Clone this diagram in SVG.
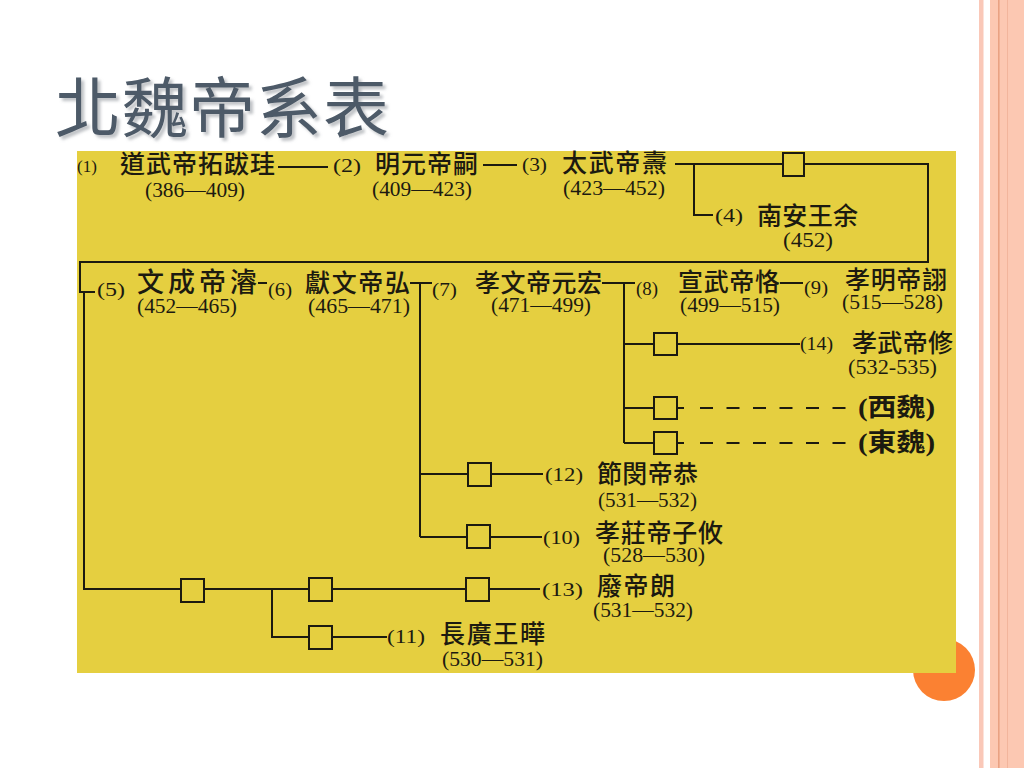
<svg xmlns="http://www.w3.org/2000/svg" width="1024" height="768" viewBox="0 0 1024 768">
<style>
.nm{font-family:"Noto Sans CJK TC","Noto Sans CJK SC",sans-serif;font-size:25px;font-weight:500;fill:#1c1a10}
.bd{font-family:"Liberation Serif","Noto Sans CJK TC","Noto Sans CJK SC",serif;font-size:25px;font-weight:700;fill:#1c1a10}
.no{font-family:"Liberation Serif",serif;font-size:19px;fill:#1c1a10}
.yr{font-family:"Liberation Serif",serif;font-size:20px;fill:#1c1a10}
.ln{stroke:#1c1a10;stroke-width:2;fill:none}
.dl{stroke:#1c1a10;stroke-width:2;fill:none;stroke-dasharray:13 13.5}
.bx{fill:none;stroke:#1c1a10;stroke-width:2}
.title{font-family:"Noto Sans CJK TC","Noto Sans CJK SC",sans-serif;font-size:66px;font-weight:400;fill:#4d5a68}
</style>
<defs>
<filter id="sh" x="-10%" y="-10%" width="130%" height="140%">
<feDropShadow dx="3" dy="3" stdDeviation="1.5" flood-color="#8a9096" flood-opacity="0.55"/>
</filter>
</defs>
<rect x="0" y="0" width="1024" height="768" fill="#ffffff"/>
<g id="decor">
<rect x="979" y="0" width="4.5" height="768" fill="#fac8b8"/>
<rect x="990" y="0" width="34" height="768" fill="#fcc8b2"/>
<rect x="998" y="0" width="1.6" height="768" fill="#e9a283"/>
<rect x="1007" y="0" width="1" height="768" fill="#f2b59c"/>
<circle cx="944" cy="670" r="31" fill="#fb8132"/>
</g>
<text class="title" x="55" y="132" filter="url(#sh)" textLength="334">北魏帝系表</text>
<rect id="panel" x="77" y="151" width="879" height="522" fill="#e5cf40"/>

<g id="connectors">
<line class="ln" x1="278" y1="167" x2="328" y2="167"/>
<line class="ln" x1="483" y1="165" x2="517" y2="165"/>
<line class="ln" x1="675" y1="164" x2="783" y2="164"/>
<line class="ln" x1="804" y1="164" x2="928" y2="164"/>
<polyline class="ln" points="694,164 694,215 713,215"/>
<polyline class="ln" points="928,163 928,262 80,262 80,292 95,292"/>
<line class="ln" x1="258" y1="283" x2="267" y2="283"/>
<line class="ln" x1="410" y1="283" x2="432" y2="283"/>
<line class="ln" x1="420" y1="283" x2="420" y2="537"/>
<line class="ln" x1="602" y1="283" x2="635" y2="283"/>
<line class="ln" x1="624" y1="283" x2="624" y2="443"/>
<line class="ln" x1="780" y1="283" x2="803" y2="283"/>
<line class="ln" x1="624" y1="344" x2="654" y2="344"/>
<line class="ln" x1="677" y1="344" x2="800" y2="344"/>
<line class="ln" x1="624" y1="408" x2="654" y2="408"/>
<line class="ln" x1="677" y1="408" x2="684" y2="408"/>
<line class="dl" x1="700" y1="408" x2="858" y2="408"/>
<line class="ln" x1="624" y1="443" x2="654" y2="443"/>
<line class="ln" x1="677" y1="443" x2="684" y2="443"/>
<line class="dl" x1="700" y1="443" x2="858" y2="443"/>
<line class="ln" x1="420" y1="474" x2="468" y2="474"/>
<line class="ln" x1="491" y1="474" x2="543" y2="474"/>
<line class="ln" x1="420" y1="537" x2="467" y2="537"/>
<line class="ln" x1="490" y1="537" x2="542" y2="537"/>
<polyline class="ln" points="84,292 84,589 181,589"/>
<line class="ln" x1="204" y1="589" x2="309" y2="589"/>
<line class="ln" x1="332" y1="589" x2="466" y2="589"/>
<line class="ln" x1="489" y1="589" x2="540" y2="589"/>
<polyline class="ln" points="272,589 272,637 309,637"/>
<line class="ln" x1="332" y1="637" x2="387" y2="637"/>
</g>

<g id="n1"><text class="no" x="77" y="172" style="font-size:17px">(1)</text><text class="nm" x="120" y="173" textLength="155">道武帝拓跋珪</text><text class="yr" x="145" y="197" textLength="100" lengthAdjust="spacingAndGlyphs">(386—409)</text></g>
<g id="n2"><text class="no" x="333" y="172" textLength="28" lengthAdjust="spacingAndGlyphs">(2)</text><text class="nm" x="375" y="173" textLength="103">明元帝嗣</text><text class="yr" x="372" y="196" textLength="100" lengthAdjust="spacingAndGlyphs">(409—423)</text></g>
<g id="n3"><text class="no" x="522" y="171" textLength="25" lengthAdjust="spacingAndGlyphs">(3)</text><text class="nm" x="562" y="172" textLength="105">太武帝燾</text><text class="yr" x="563" y="195" textLength="102" lengthAdjust="spacingAndGlyphs">(423—452)</text></g>
<g id="b0"><rect class="bx" x="783" y="153" width="21" height="23"/></g>
<g id="n4"><text class="no" x="715" y="222" textLength="28" lengthAdjust="spacingAndGlyphs">(4)</text><text class="nm" x="757" y="225" textLength="101">南安王余</text><text class="yr" x="783" y="247" textLength="50" lengthAdjust="spacingAndGlyphs">(452)</text></g>
<g id="n5"><text class="no" x="97" y="296" textLength="28" lengthAdjust="spacingAndGlyphs">(5)</text><text class="nm" x="137" y="292" textLength="120" style="font-size:27px">文成帝濬</text><text class="yr" x="137" y="313" textLength="100" lengthAdjust="spacingAndGlyphs">(452—465)</text></g>
<g id="n6"><text class="no" x="268" y="296" textLength="24" lengthAdjust="spacingAndGlyphs">(6)</text><text class="nm" x="305" y="292" textLength="105">獻文帝弘</text><text class="yr" x="308" y="313" textLength="102" lengthAdjust="spacingAndGlyphs">(465—471)</text></g>
<g id="n7"><text class="no" x="432" y="296" textLength="25" lengthAdjust="spacingAndGlyphs">(7)</text><text class="nm" x="475" y="292" textLength="127">孝文帝元宏</text><text class="yr" x="491" y="312" textLength="100" lengthAdjust="spacingAndGlyphs">(471—499)</text></g>
<g id="n8"><text class="no" x="636" y="295" textLength="22" lengthAdjust="spacingAndGlyphs">(8)</text><text class="nm" x="678" y="291" textLength="102">宣武帝恪</text><text class="yr" x="680" y="312" textLength="100" lengthAdjust="spacingAndGlyphs">(499—515)</text></g>
<g id="n9"><text class="no" x="804" y="294" textLength="24" lengthAdjust="spacingAndGlyphs">(9)</text><text class="nm" x="845" y="289" textLength="102">孝明帝詡</text><text class="yr" x="842" y="309" textLength="101" lengthAdjust="spacingAndGlyphs">(515—528)</text></g>
<g id="b1"><rect class="bx" x="654" y="333" width="23" height="22"/></g>
<g id="n14"><text class="no" x="800" y="350" textLength="33" lengthAdjust="spacingAndGlyphs">(14)</text><text class="nm" x="852" y="352" textLength="101">孝武帝修</text><text class="yr" x="848" y="374" textLength="89" lengthAdjust="spacingAndGlyphs">(532-535)</text></g>
<g id="b2"><rect class="bx" x="654" y="397" width="23" height="22"/></g>
<g id="xiwei"><text class="bd" x="858" y="416" textLength="77" lengthAdjust="spacingAndGlyphs">(西魏)</text></g>
<g id="b3"><rect class="bx" x="654" y="432" width="23" height="22"/></g>
<g id="dongwei"><text class="bd" x="858" y="451" textLength="77" lengthAdjust="spacingAndGlyphs">(東魏)</text></g>
<g id="b4"><rect class="bx" x="468" y="463" width="23" height="23"/></g>
<g id="n12"><text class="no" x="545" y="481" textLength="38" lengthAdjust="spacingAndGlyphs">(12)</text><text class="nm" x="597" y="483" textLength="101">節閔帝恭</text><text class="yr" x="598" y="507" textLength="99" lengthAdjust="spacingAndGlyphs">(531—532)</text></g>
<g id="b5"><rect class="bx" x="467" y="525" width="23" height="23"/></g>
<g id="n10"><text class="no" x="543" y="544" textLength="37" lengthAdjust="spacingAndGlyphs">(10)</text><text class="nm" x="595" y="542" textLength="128">孝莊帝子攸</text><text class="yr" x="603" y="562" textLength="102" lengthAdjust="spacingAndGlyphs">(528—530)</text></g>
<g id="b6"><rect class="bx" x="181" y="579" width="23" height="23"/></g>
<g id="b7"><rect class="bx" x="309" y="578" width="23" height="23"/></g>
<g id="b8"><rect class="bx" x="466" y="578" width="23" height="23"/></g>
<g id="n13"><text class="no" x="542" y="596" textLength="41" lengthAdjust="spacingAndGlyphs">(13)</text><text class="nm" x="597" y="595" textLength="78">廢帝朗</text><text class="yr" x="593" y="617" textLength="100" lengthAdjust="spacingAndGlyphs">(531—532)</text></g>
<g id="b9"><rect class="bx" x="309" y="626" width="23" height="23"/></g>
<g id="n11"><text class="no" x="387" y="643" textLength="38" lengthAdjust="spacingAndGlyphs">(11)</text><text class="nm" x="440" y="643" textLength="105">長廣王曄</text><text class="yr" x="442" y="666" textLength="101" lengthAdjust="spacingAndGlyphs">(530—531)</text></g>
</svg>
